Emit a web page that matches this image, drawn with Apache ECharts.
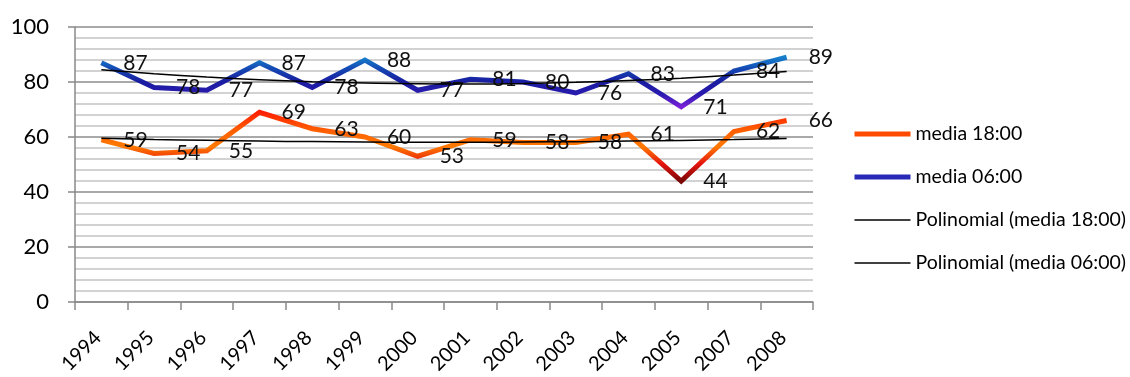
<!DOCTYPE html>
<html>
<head>
<meta charset="utf-8">
<script src="https://cdn.jsdelivr.net/npm/echarts@6/dist/echarts.min.js"></script>
<style>
  html, body { margin: 0; padding: 0; background: #ffffff; }
  #chart { width: 1130px; height: 377px; }
</style>
</head>
<body>
<div id="chart"></div>
<script>
// Yearly averages (no 2006 record)
const years = ['1994', '1995', '1996', '1997', '1998', '1999', '2000', '2001', '2002', '2003', '2004', '2005', '2007', '2008'];
const media18 = [59, 54, 55, 69, 63, 60, 53, 59, 58, 58, 61, 44, 62, 66];
const media06 = [87, 78, 77, 87, 78, 88, 77, 81, 80, 76, 83, 71, 84, 89];
const seriesNames = ['media 18:00', 'media 06:00', 'Polinomial (media 18:00)', 'Polinomial (media 06:00)'];
const yMin = 0, yMax = 100, yStep = 20;

// Second-order least-squares trend over x = 1..n (centred so odd sums vanish)
function quadTrend(values) {
  const n = values.length;
  const mid = (n + 1) / 2;
  let s2 = 0, s4 = 0, sy = 0, sty = 0, st2y = 0;
  values.forEach((y, i) => {
    const t = i + 1 - mid;
    s2 += t * t; s4 += t * t * t * t;
    sy += y; sty += t * y; st2y += t * t * y;
  });
  const b = sty / s2;
  const c = (st2y - (s2 / n) * sy) / (s4 - (s2 * s2) / n);
  const a = sy / n - c * s2 / n;
  return values.map((_, i) => {
    const t = i + 1 - mid;
    return +(a + b * t + c * t * t).toFixed(3);
  });
}

const trend18 = quadTrend(media18);
const trend06 = quadTrend(media06);

const FONT = 'Lato, "Open Sans", sans-serif';
const axisGray = '#898989';

const chart = echarts.init(document.getElementById('chart'), null, { renderer: 'canvas' });

const dataLabel = {
  show: true,
  position: 'right',
  distance: 22,
  fontFamily: FONT,
  fontSize: 21,
  color: '#111111'
};

chart.setOption({
  animation: false,
  backgroundColor: '#ffffff',
  grid: { left: 75, right: 317, top: 27, bottom: 75, outerBoundsMode: 'none' },
  xAxis: {
    type: 'category',
    data: years,
    boundaryGap: true,
    axisLine: { show: true, lineStyle: { color: axisGray, width: 1.5 } },
    axisTick: { show: true, interval: 0, length: 8, lineStyle: { color: axisGray, width: 1.5 } },
    axisLabel: {
      interval: 0, rotate: 45, margin: 29, padding: [0, 5, 0, 0],
      fontFamily: FONT, fontSize: 20, color: '#000000'
    },
    splitLine: { show: false }
  },
  yAxis: {
    type: 'value',
    min: yMin, max: yMax, interval: yStep,
    axisLine: { show: true, lineStyle: { color: axisGray, width: 1.5 } },
    axisTick: { show: true, length: 7, lineStyle: { color: axisGray, width: 1.5 } },
    axisLabel: { margin: 26, fontFamily: FONT, fontSize: 22, color: '#000000' },
    splitLine: { show: true, lineStyle: { color: '#8c8c8c', width: 1.5 } },
    minorTick: { show: false, splitNumber: 5 },
    minorSplitLine: { show: true, lineStyle: { color: '#c4c4c4', width: 1.5 } }
  },
  visualMap: [
    {
      type: 'continuous', show: false, seriesIndex: 0, dimension: 1,
      min: 44, max: 69,
      inRange: { color: ['#7a0707', '#e5140c', '#ff7a00', '#ff5c00', '#ff1f00'] }
    },
    {
      type: 'continuous', show: false, seriesIndex: 1, dimension: 1,
      min: 71, max: 89,
      inRange: { color: ['#7b20d8', '#2a1bb0', '#1a1ca0', '#1545b2', '#1680cc'] }
    }
  ],
  legend: {
    orient: 'vertical',
    left: 847,
    top: 119,
    itemWidth: 56,
    itemHeight: 14,
    itemGap: 23,
    textStyle: { fontFamily: FONT, fontSize: 19.5, color: '#000000' },
    itemStyle: { color: 'rgba(0,0,0,0)', borderWidth: 0 },
    data: [
      { name: seriesNames[0], lineStyle: { color: '#ff4a00', width: 5 } },
      { name: seriesNames[1], lineStyle: { color: '#2a2ab8', width: 5 } },
      { name: seriesNames[2], lineStyle: { color: '#000000', width: 1.5 } },
      { name: seriesNames[3], lineStyle: { color: '#000000', width: 1.5 } }
    ]
  },
  series: [
    {
      name: seriesNames[0], type: 'line', data: media18,
      symbol: 'circle', symbolSize: 0,
      lineStyle: { width: 5, join: 'miter' },
      label: dataLabel, z: 2
    },
    {
      name: seriesNames[1], type: 'line', data: media06,
      symbol: 'circle', symbolSize: 0,
      lineStyle: { width: 5, join: 'miter' },
      label: dataLabel, z: 2
    },
    {
      name: seriesNames[2], type: 'line', data: trend18,
      symbol: 'none', smooth: true, silent: true,
      itemStyle: { color: '#000000' },
      lineStyle: { color: '#000000', width: 1.5 }, z: 3
    },
    {
      name: seriesNames[3], type: 'line', data: trend06,
      symbol: 'none', smooth: true, silent: true,
      itemStyle: { color: '#000000' },
      lineStyle: { color: '#000000', width: 1.5 }, z: 3
    }
  ]
});
</script>
</body>
</html>
